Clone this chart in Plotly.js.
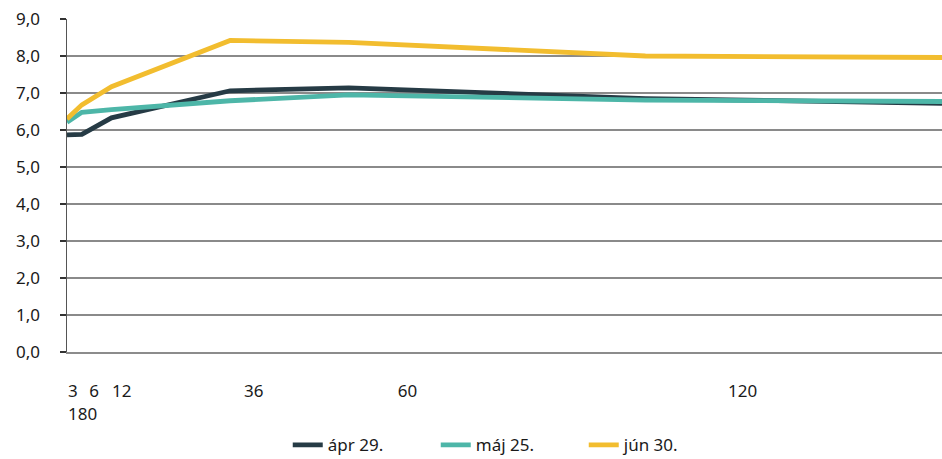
<!DOCTYPE html>
<html>
<head>
<meta charset="utf-8">
<script src="https://cdn.plot.ly/plotly-3.0.1.min.js"></script>
<style>html,body{margin:0;padding:0;background:#fff;}#chart{width:942px;height:459px;}</style>
</head>
<body>
<div id="chart"></div>
<script>
// Maturities in months
const maturities = [3, 6, 12, 36, 60, 120, 180];
const seriesNames = ["ápr 29.", "máj 25.", "jún 30."];
const apr29 = [5.87, 5.88, 6.33, 7.06, 7.14, 6.85, 6.72];
const maj25 = [6.21, 6.48, 6.55, 6.79, 6.95, 6.81, 6.77];
const jun30 = [6.30, 6.68, 7.17, 8.42, 8.37, 8.00, 7.96];
const xTickLabels = ["3<br>180", "6", "12", "36", "60", "120"];
const yTickValues = [0, 1, 2, 3, 4, 5, 6, 7, 8, 9];

// where the source chart prints its x labels (left edge, in months)
const xLabelAt = [3, 7.3, 11.9, 38.6, 69.7, 136.5];
const colors = ["#263b45", "#4db6a8", "#f2bd2f"];
const seriesValues = [apr29, maj25, jun30];

const traces = seriesNames.map((n, i) => ({
  type: "scatter", mode: "lines", name: n,
  x: maturities, y: seriesValues[i],
  line: {color: colors[i], width: 4.8},
  hoverinfo: "skip"
}));

const font = {family: "Noto Sans, sans-serif", size: 17, color: "#1a1a1a"};
const layout = {
  width: 942, height: 459,
  margin: {l: 67, r: 0, t: 19, b: 107, autoexpand: false},
  paper_bgcolor: "#fff", plot_bgcolor: "#fff",
  separators: ", ",
  font: font,
  showlegend: true,
  legend: {orientation: "h", x: 0.506, xanchor: "center", yref: "container", y: 0.03, yanchor: "middle",
           font: {family: font.family, size: 17, color: "#1a1a1a"},
           entrywidth: 103, entrywidthmode: "pixels", tracegroupgap: 0},
  xaxis: {
    range: [3, 180], showgrid: false, zeroline: false, automargin: false,
    showline: true, linecolor: "#8c8c8c", linewidth: 2,
    tickmode: "array", tickvals: xLabelAt, ticktext: xTickLabels,
    ticks: "", tickangle: 0, ticklabelposition: "outside right", ticklabelstandoff: 23,
    tickfont: font, fixedrange: true
  },
  yaxis: {
    range: [0, 9], tickmode: "array", tickvals: yTickValues, tickformat: ".1f", automargin: false,
    showgrid: true, gridcolor: "#8a8a8a", gridwidth: 2, zeroline: false,
    showline: true, linecolor: "#555", linewidth: 1.5,
    ticks: "outside", ticklen: 6, tickcolor: "#333", tickwidth: 1.5,
    ticklabelstandoff: 16, tickfont: font, fixedrange: true
  }
};
Plotly.newPlot("chart", traces, layout, {staticPlot: true, displayModeBar: false});
</script>
</body>
</html>
